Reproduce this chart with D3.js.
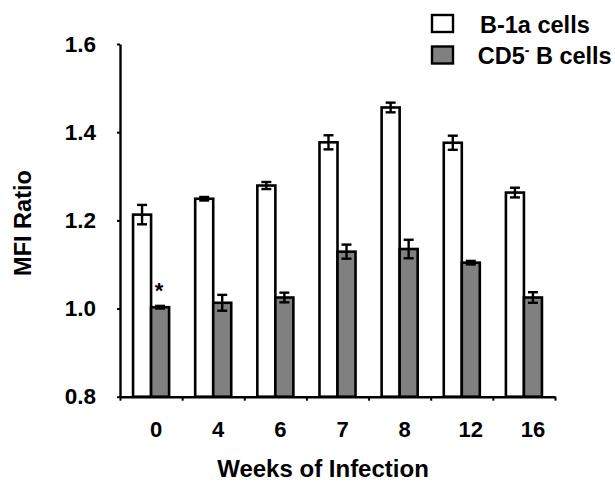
<!DOCTYPE html>
<html>
<head>
<meta charset="utf-8">
<script src="https://cdn.jsdelivr.net/npm/d3@7"></script>
<style>
    body { margin: 0; background: #fff; }
    text { font-family: "Liberation Sans", Arial, sans-serif; font-weight: bold; }
</style>
</head>
<body>
<div class="chart"></div>
<script>
// weeks of infection
var weeks = ["0", "4", "6", "7", "8", "12", "16"];
var seriesNames = ["B-1a cells", "CD5- B cells"];
var b1aValues = [1.213, 1.249, 1.279, 1.377, 1.456, 1.376, 1.263];
var b1aErrors = [0.022, 0.004, 0.008, 0.016, 0.011, 0.016, 0.011];
var cd5Values = [1.003, 1.013, 1.025, 1.129, 1.135, 1.104, 1.025];
var cd5Errors = [0.003, 0.018, 0.011, 0.016, 0.021, 0.004, 0.012];
var yTicks = [0.8, 1.0, 1.2, 1.4, 1.6];
var seriesFill = ["#ffffff", "#808080"];

var W = 615, H = 484;
var plotLeft = 120, plotRight = 555, plotTop = 44, plotBottom = 396.7;

var svg = d3.select("div.chart")
    .append("svg")
    .attr("width", W)
    .attr("height", H);

var y = d3.scaleLinear().domain([0.8, 1.6]).range([plotBottom, plotTop]);
var x0 = d3.scaleBand().domain(weeks).range([plotLeft, plotRight])
    .paddingInner(0.42).paddingOuter(0.21);
var x1 = d3.scaleBand().domain(seriesNames).range([0, x0.bandwidth()]);
// boundaries between groups, for the x tick marks
var xEdge = d3.scaleLinear().domain([0, weeks.length]).range([plotLeft, plotRight]);

var rows = weeks.map(function(w, i){
    return {week: w, vals: [
        {s: seriesNames[0], v: b1aValues[i], e: b1aErrors[i], fill: seriesFill[0]},
        {s: seriesNames[1], v: cd5Values[i], e: cd5Errors[i], fill: seriesFill[1]}
    ]};
});

// axes
var yAxis = svg.append("g")
    .attr("transform", "translate(" + plotLeft + ",0)")
    .call(d3.axisLeft(y).tickValues(yTicks).tickFormat(d3.format(".1f"))
        .tickSize(3).tickSizeOuter(0).tickPadding(21));
yAxis.select(".domain").attr("stroke-width", 2.4);
yAxis.selectAll(".tick line").attr("stroke-width", 2);
yAxis.selectAll(".tick text")
    .attr("font-size", 22.5)
    .attr("font-family", "Liberation Sans, Arial, sans-serif")
    .attr("font-weight", "bold")
    .attr("fill", "#000");

var xAxis = svg.append("g")
    .attr("transform", "translate(0," + plotBottom + ")")
    .call(d3.axisBottom(xEdge).tickValues(d3.range(weeks.length + 1))
        .tickFormat("").tickSize(4).tickSizeOuter(0));
xAxis.select(".domain").attr("stroke-width", 2.4);
xAxis.selectAll(".tick line").attr("stroke-width", 2);

svg.append("g")
    .selectAll("text")
    .data(weeks)
    .enter()
    .append("text")
    .attr("x", function(d){ return x0(d) + x0.bandwidth() / 2 + (d.length > 1 ? 9 : 5); })
    .attr("y", 437.3)
    .attr("text-anchor", "middle")
    .attr("font-size", 22)
    .text(function(d){ return d; });

// bars
var groups = svg.append("g")
    .selectAll("g")
    .data(rows)
    .enter()
    .append("g")
    .attr("transform", function(d){ return "translate(" + x0(d.week) + ",0)"; });

groups.selectAll("rect")
    .data(function(d){ return d.vals; })
    .enter()
    .append("rect")
    .attr("x", function(d){ return x1(d.s); })
    .attr("y", function(d){ return y(d.v); })
    .attr("width", x1.bandwidth())
    .attr("height", function(d){ return plotBottom - y(d.v); })
    .attr("fill", function(d){ return d.fill; })
    .attr("stroke", "#000")
    .attr("stroke-width", 2.6);

// error bars
var err = groups.selectAll("g.err")
    .data(function(d){ return d.vals; })
    .enter()
    .append("g")
    .attr("class", "err")
    .attr("stroke", "#000")
    .attr("stroke-width", 2.4);
err.append("line")
    .attr("x1", function(d){ return x1(d.s) + x1.bandwidth() / 2; })
    .attr("x2", function(d){ return x1(d.s) + x1.bandwidth() / 2; })
    .attr("y1", function(d){ return y(d.v + d.e); })
    .attr("y2", function(d){ return y(d.v - d.e); });
err.selectAll("line.cap")
    .data(function(d){ return [d.v + d.e, d.v - d.e].map(function(v){ return {s: d.s, v: v}; }); })
    .enter()
    .append("line")
    .attr("class", "cap")
    .attr("x1", function(d){ return x1(d.s) + x1.bandwidth() / 2 - 5; })
    .attr("x2", function(d){ return x1(d.s) + x1.bandwidth() / 2 + 5; })
    .attr("y1", function(d){ return y(d.v); })
    .attr("y2", function(d){ return y(d.v); });

// significance mark
svg.append("text")
    .attr("x", x0(weeks[0]) + x1(seriesNames[1]) + x1.bandwidth() / 2 - 1)
    .attr("y", y(cd5Values[0] + cd5Errors[0]) - 8)
    .attr("text-anchor", "middle")
    .attr("font-size", 22)
    .text("*");

// axis titles
svg.append("text")
    .attr("transform", "translate(31,223) rotate(-90)")
    .attr("text-anchor", "middle")
    .attr("font-size", 23.5)
    .text("MFI Ratio");
svg.append("text")
    .attr("x", 323)
    .attr("y", 477)
    .attr("text-anchor", "middle")
    .attr("font-size", 24)
    .text("Weeks of Infection");

// legend
var legend = svg.append("g")
    .selectAll("g")
    .data(seriesNames)
    .enter()
    .append("g")
    .attr("transform", function(d, i){ return "translate(432," + (15 + i * 31.5) + ")"; });
legend.append("rect")
    .attr("width", 21)
    .attr("height", 17)
    .attr("fill", function(d, i){ return seriesFill[i]; })
    .attr("stroke", "#000")
    .attr("stroke-width", 2.4);
var lt = legend.append("text")
    .attr("x", function(d, i){ return i === 0 ? 48 : 45.7; })
    .attr("y", 17.7)
    .attr("font-size", 23.5);
lt.each(function(d){
    var t = d3.select(this);
    if (d.indexOf("CD5-") === 0) {
        t.append("tspan").text("CD5");
        t.append("tspan").attr("dy", -9).attr("font-size", 14).text("-");
        t.append("tspan").attr("dy", 9).text(" B cells");
    } else {
        t.text(d);
    }
});
</script>
</body>
</html>
